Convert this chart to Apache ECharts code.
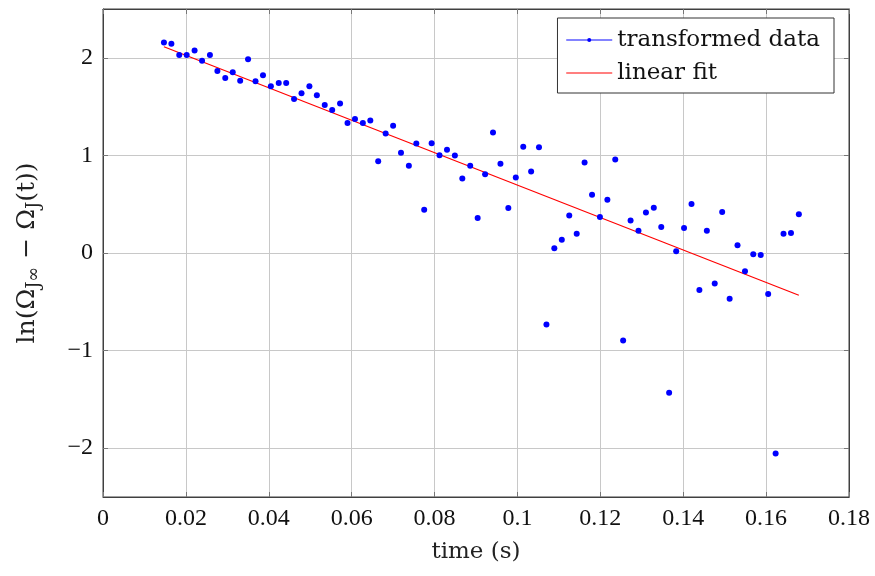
<!DOCTYPE html>
<html>
<head>
<meta charset="utf-8">
<script src="https://cdn.jsdelivr.net/npm/echarts@6/dist/echarts.min.js"></script>
<style>html,body{margin:0;padding:0;background:#fff}#c{width:875px;height:576px}</style>
</head>
<body>
<div id="c"></div>
<script>
// time values (s)
var tValues = [0.0147,0.0165,0.0184,0.0202,0.0221,0.0239,0.0258,0.0276,0.0295,0.0313,
  0.0331,0.0350,0.0368,0.0386,0.0405,0.0424,0.0442,0.0461,0.0479,0.0498,
  0.0516,0.0535,0.0553,0.0572,0.0590,0.0608,0.0627,0.0645,0.0664,0.0682,
  0.0700,0.0719,0.0738,0.0756,0.0775,0.0793,0.0812,0.0830,0.0849,0.0867,
  0.0886,0.0904,0.0922,0.0941,0.0959,0.0978,0.0996,0.1014,0.1033,0.1052,
  0.1070,0.1089,0.1107,0.1125,0.1143,0.1162,0.1180,0.1199,0.1217,0.1236,
  0.1255,0.1273,0.1292,0.1310,0.1329,0.1347,0.1366,0.1383,0.1402,0.1420,
  0.1439,0.1457,0.1476,0.1494,0.1512,0.1531,0.1549,0.1569,0.1587,0.1605,
  0.1623,0.1642,0.1660,0.1679];
// transformed data ln(Ωj∞ − Ωj(t))
var lnValues = [2.157,2.144,2.029,2.029,2.076,1.970,2.029,1.865,1.793,1.851,
  1.766,1.984,1.759,1.820,1.708,1.742,1.742,1.579,1.636,1.708,
  1.616,1.517,1.466,1.531,1.333,1.374,1.333,1.357,0.941,1.224,
  1.303,1.027,0.894,1.122,0.444,1.125,1.002,1.057,0.999,0.764,
  0.894,0.358,0.808,1.234,0.914,0.460,0.774,1.088,0.835,1.084,
  -0.732,0.048,0.137,0.385,0.198,0.927,0.597,0.368,0.546,0.958,
  -0.896,0.334,0.229,0.416,0.464,0.266,-1.431,0.017,0.256,0.501,
  -0.378,0.229,-0.313,0.419,-0.470,0.079,-0.187,-0.013,-0.020,-0.419,
  -2.055,0.198,0.204,0.396];
// linear fit endpoints
var fitT = [0.0147, 0.1679];
var fitV = [2.113, -0.433];
// ticks
var yTicks = [-2,-1,0,1,2];
var seriesNames = ['transformed data','linear fit'];

var dataPts = tValues.map(function(t,i){return [t, lnValues[i]];});
var fitPts = fitT.map(function(t,i){return [t, fitV[i]];});

var numFont = 'Liberation Serif';
var txtFont = 'DejaVu Serif';
var frame = '#404040';

function fmtY(v){ return v < 0 ? '\u2212' + Math.abs(v) : String(v); }
function fmtX(v){ return String(+v.toFixed(2)); }

var chart = echarts.init(document.getElementById('c'), null, {renderer:'canvas'});
chart.setOption({
  animation: false,
  backgroundColor: '#fff',
  grid: {left:103, right:26, top:9, bottom:79, show:true, borderColor:frame, borderWidth:1, backgroundColor:'transparent'},
  legend: {
    orient: 'vertical', right: 41, top: 18,
    backgroundColor: '#fff', borderColor: '#333', borderWidth: 1, borderRadius: 0,
    padding: [8, 14, 6, 8],
    itemWidth: 46, itemHeight: 5, itemGap: 5,
    textStyle: {fontFamily: txtFont, fontSize: 23, color: '#111', lineHeight: 28},
    data: [
      {name: seriesNames[0], lineStyle: {color:'#5a5aff', width:1.5, opacity:1}, itemStyle:{color:'#0000ff'}},
      {name: seriesNames[1], lineStyle: {color:'#ff0000', width:1.2, opacity:1}, itemStyle:{opacity:0}}
    ]
  },
  xAxis: [{
    type: 'value', min: 0, max: 0.18, interval: 0.02, position: 'bottom',
    name: 'time (s)', nameLocation: 'middle', nameGap: 44,
    nameTextStyle: {fontFamily: txtFont, fontSize: 23, color: '#222'},
    axisLine: {show:true, onZero:false, lineStyle:{color:frame}},
    axisTick: {show:true, inside:true, length:5, lineStyle:{color:'#777'}},
    axisLabel: {fontFamily: numFont, fontSize: 24, color:'#111', margin: 10, formatter: fmtX},
    splitLine: {show:true, lineStyle:{color:'#c8c8c8', width:1}}
  },{
    type: 'value', min: 0, max: 0.18, interval: 0.02, position: 'top',
    axisLine: {show:true, onZero:false, lineStyle:{color:frame}},
    axisTick: {show:true, inside:true, length:5, lineStyle:{color:'#777'}},
    axisLabel: {show:false}, splitLine: {show:false}
  }],
  yAxis: [{
    type: 'value', min: -2.5, max: 2.5, position: 'left',
    name: '{m|ln(\u03A9}{s|J\u221E}{m| \u2212 \u03A9}{s|J}{m|(t))}',
    nameLocation: 'middle', nameGap: 60, nameRotate: 90,
    nameTextStyle: {
      fontFamily: txtFont, fontSize: 25, color:'#222',
      rich: {
        m: {fontFamily: txtFont, fontSize: 25, lineHeight: 32, color:'#222'},
        s: {fontFamily: txtFont, fontSize: 18, lineHeight: 18, verticalAlign:'bottom', color:'#222'}
      }
    },
    axisLine: {show:true, onZero:false, lineStyle:{color:frame}},
    axisTick: {show:true, inside:true, length:5, customValues: yTicks, lineStyle:{color:'#777'}},
    axisLabel: {fontFamily: numFont, fontSize: 24, color:'#111', margin: 10, customValues: yTicks, formatter: fmtY},
    splitLine: {show:true, lineStyle:{color:'#c8c8c8', width:1}}
  },{
    type: 'value', min: -2.5, max: 2.5, position: 'right',
    axisLine: {show:true, onZero:false, lineStyle:{color:frame}},
    axisTick: {show:true, inside:true, length:5, customValues: yTicks, lineStyle:{color:'#777'}},
    axisLabel: {show:false}, splitLine: {show:false}
  }],
  series: [{
    name: seriesNames[0], type: 'line', xAxisIndex:0, yAxisIndex:0,
    data: dataPts, symbol: 'circle', symbolSize: 6, showSymbol: true,
    itemStyle: {color: '#0000ff'},
    lineStyle: {opacity: 0, width: 0},
    z: 3
  },{
    name: seriesNames[1], type: 'line', xAxisIndex:0, yAxisIndex:0,
    data: fitPts, showSymbol: false, symbol: 'none',
    lineStyle: {color: '#ff0000', width: 1.2},
    itemStyle: {color: '#ff0000'},
    z: 2
  }]
});
</script>
</body>
</html>
